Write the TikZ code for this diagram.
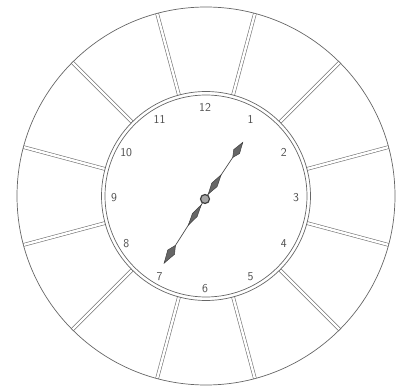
\documentclass[tikz,border=0pt]{standalone}
\begin{document}
\begin{tikzpicture}[x=1pt,y=-1pt]
        \tikzstyle{ring}=[draw=black!60, line width=0.7pt]
        \tikzstyle{spoke}=[draw=black!55, double=white, double distance=2.4pt, line width=0.6pt]
        \tikzstyle{num}=[font=\sffamily\fontsize{12}{12}\selectfont, text=black!70, inner sep=0pt]
        \tikzstyle{hand}=[draw=black!75, fill=black!60, line width=0.5pt]

        \useasboundingbox (0,0) rectangle (404,390);

        \coordinate (c) at (206,196);
        \coordinate (h) at (205,199);

        % spokes between the numbers
        \foreach \a in {15,45,...,345}
            \draw[spoke, shift={(c)}] (\a:104.5) -- (\a:189);

        \draw[ring] (c) circle (189);
        \draw[ring] (c) circle (104.5);
        \draw[ring] (c) circle (101);

        \foreach \n in {1,...,12}
            \node[num] (n\n) at ([shift={(30*\n-90:91)}]205,198) {\n};

        % hand to 1
        \begin{scope}[shift={(h)}, rotate=-122.5]
            \draw[black!70, line width=0.7pt] (0,0) -- (76,0);
            \draw[hand] (7,0) -- (19,-2.8) -- (31,0) -- (19,2.8) -- cycle;
            \draw[hand] (55,0) -- (63,-4) -- (76,0) -- (63,4) -- cycle;
        \end{scope}
        % hand to 7
        \begin{scope}[shift={(h)}, rotate=56.3]
            \draw[black!70, line width=0.7pt] (0,0) -- (68,0);
            \draw[hand] (6,0) -- (17,-3.2) -- (29,0) -- (17,3.2) -- cycle;
            \draw[hand] (50,0) -- (57,-3.5) -- (68,0) -- (57,3.5) -- cycle;
        \end{scope}

        \draw[black!75, fill=black!35, line width=1.2pt] (h) circle (4.5);
    \end{tikzpicture}
\end{document}
